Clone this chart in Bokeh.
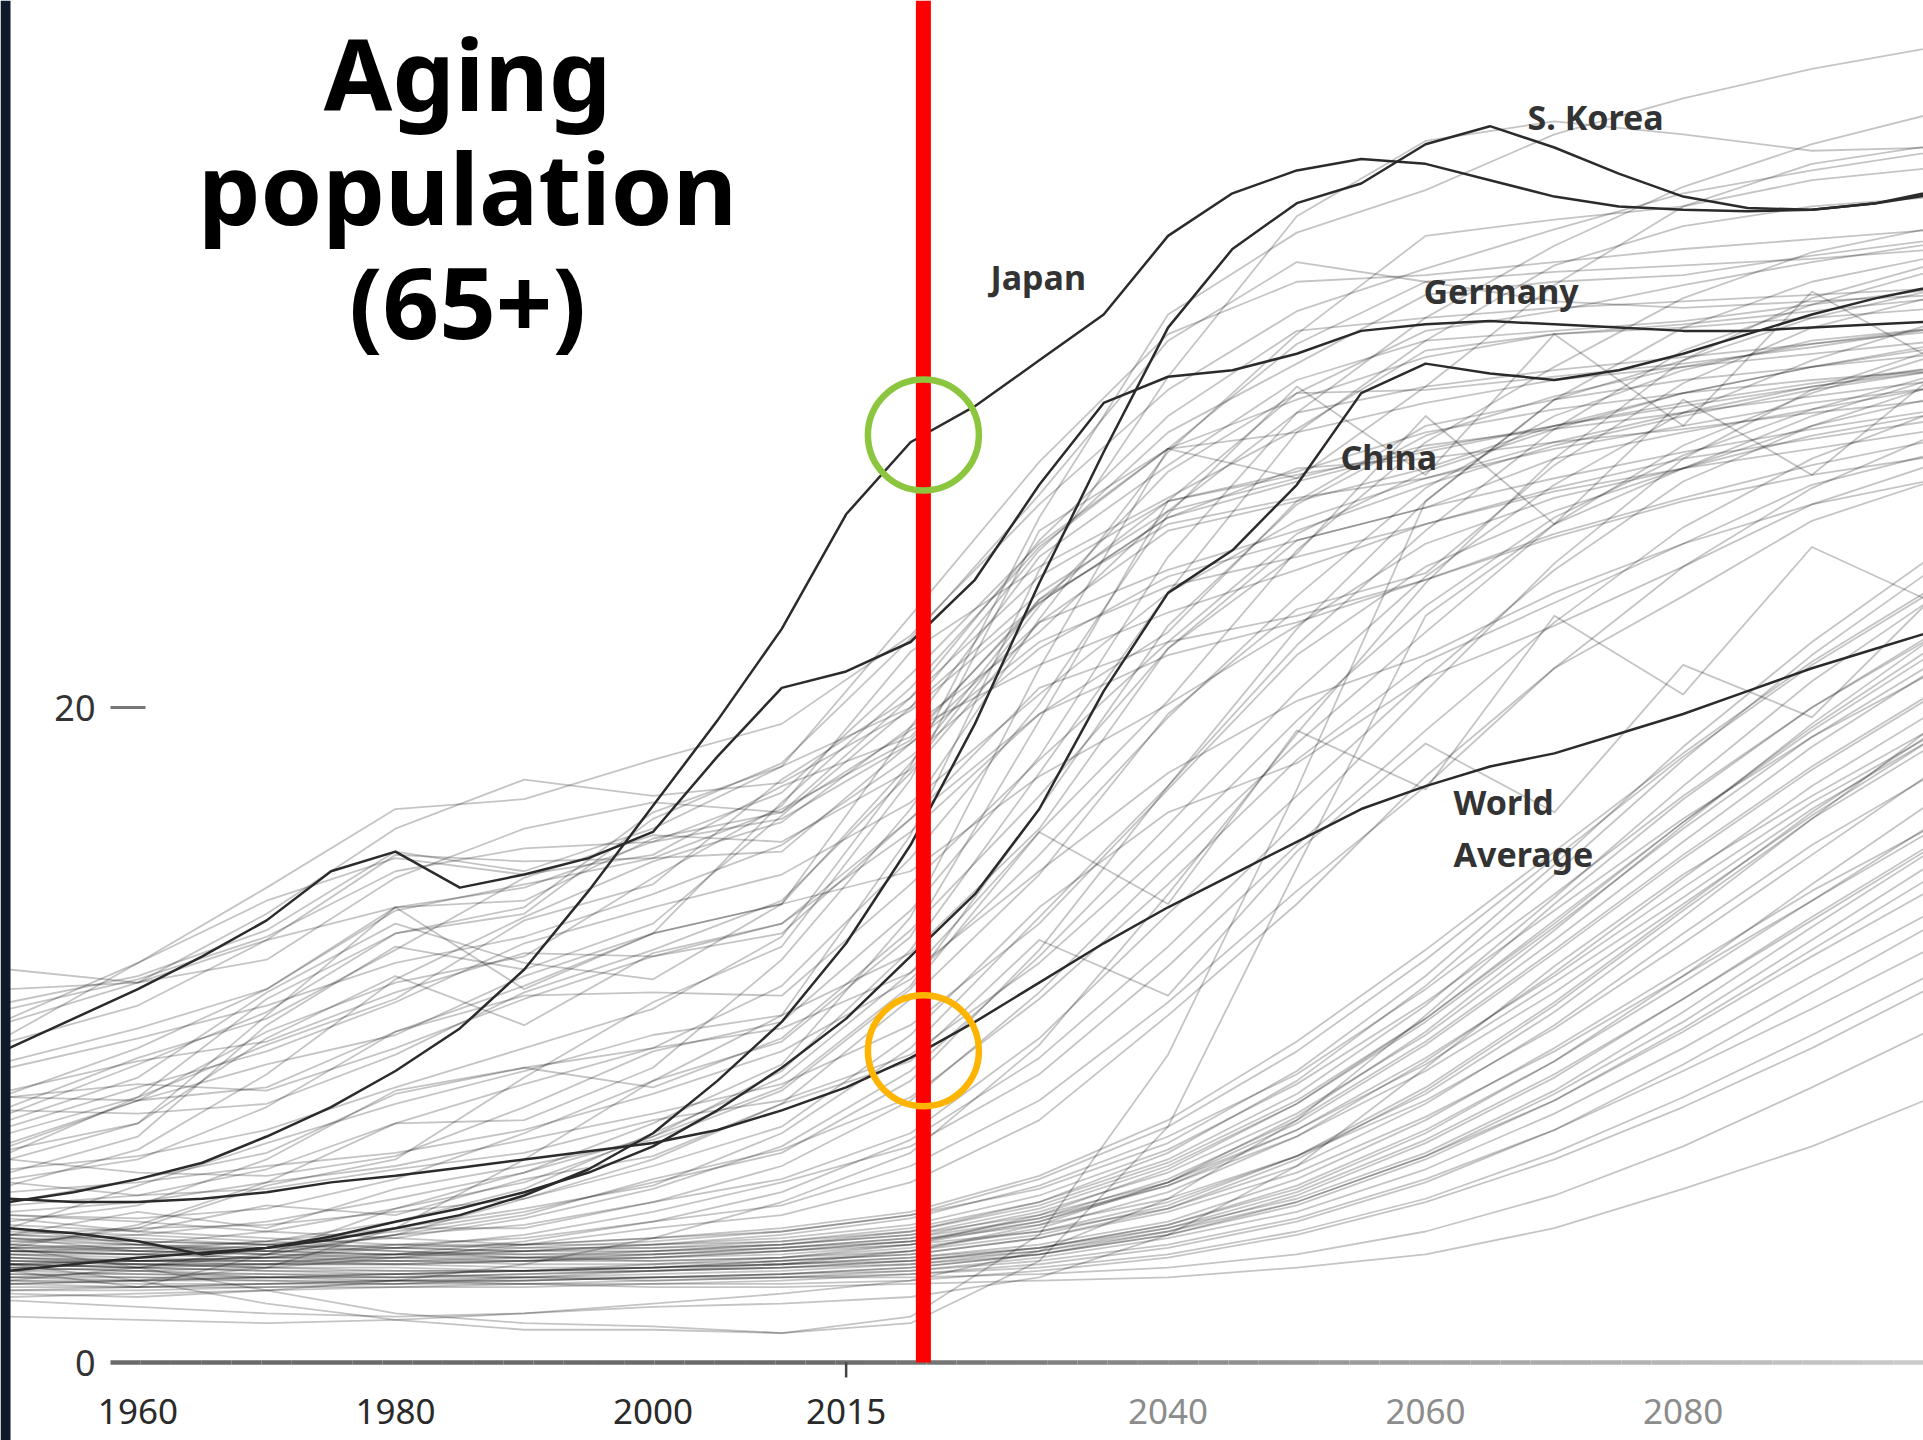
import numpy as np
from bokeh.plotting import figure
from bokeh.models import Label, Range1d, BoxAnnotation
from bokeh.core.properties import value
from bokeh.embed import file_html
from bokeh.resources import INLINE

# ------------------------------------------------------------------ data
# share of population aged 65+ (%)
years_5 = list(range(1950, 2101, 5))
years_10 = list(range(1950, 2101, 10))

japan = [4.9, 5.2, 5.6, 6.1, 6.9, 7.8, 8.9, 10.2, 12.0, 14.4, 17.0, 19.6, 22.4, 25.9, 28.1,
         29.2, 30.6, 32.0, 34.4, 35.7, 36.4, 36.75, 36.6, 36.1, 35.6, 35.3, 35.2, 35.15, 35.2, 35.4, 35.7]
s_korea = [2.8, 3.0, 3.2, 3.35, 3.5, 3.75, 4.1, 4.5, 5.1, 5.9, 7.0, 8.6, 10.4, 12.8, 15.8,
           19.5, 23.8, 27.8, 31.6, 34.0, 35.4, 36.0, 37.2, 37.75, 37.1, 36.3, 35.6, 35.25, 35.2, 35.4, 35.8]
germany = [9.6, 10.5, 11.4, 12.4, 13.5, 15.0, 15.6, 14.5, 14.9, 15.4, 16.2, 18.5, 20.6, 21.1, 22.0,
           23.9, 26.8, 29.3, 30.1, 30.3, 30.8, 31.5, 31.7, 31.8, 31.7, 31.6, 31.5, 31.5, 31.6, 31.7, 31.8]
china = [4.1, 3.95, 3.7, 3.3, 3.5, 3.85, 4.3, 4.7, 5.2, 5.8, 6.6, 7.7, 9.0, 10.5, 12.4,
         14.3, 16.9, 20.5, 23.5, 24.8, 26.8, 29.6, 30.5, 30.2, 30.0, 30.3, 30.8, 31.4, 32.0, 32.5, 32.9]
world = [5.0, 4.9, 4.9, 5.0, 5.2, 5.5, 5.7, 5.95, 6.2, 6.45, 6.7, 7.1, 7.7, 8.4, 9.3,
         10.4, 11.6, 12.8, 13.9, 14.9, 15.9, 16.9, 17.6, 18.2, 18.6, 19.2, 19.8, 20.5, 21.2, 21.8, 22.4]

# background countries, one value per decade 1950..2100
bg_developed = [
    [11.0, 11.8, 13.2, 15.6, 15.0, 16.3, 18.2, 20.0, 23.5, 26.0, 27.0, 28.0, 28.5, 29.0, 29.5, 30.0],
    [10.4, 11.6, 13.7, 16.3, 17.8, 17.3, 17.7, 19.9, 23.2, 25.8, 26.9, 27.9, 28.6, 29.3, 29.9, 30.4],
    [8.2, 9.6, 11.4, 13.9, 14.5, 15.9, 17.4, 21.0, 25.0, 27.9, 28.4, 29.3, 30.0, 30.4, 30.8, 31.2],
    [7.6, 9.1, 10.7, 13.1, 13.9, 16.8, 18.2, 22.8, 27.5, 31.4, 33.0, 33.2, 33.6, 34.0, 34.3, 34.6],
    [11.4, 11.6, 12.9, 13.9, 14.1, 16.0, 16.8, 20.3, 24.0, 26.3, 27.2, 28.4, 29.1, 29.6, 30.0, 30.3],
    [10.8, 11.7, 13.0, 15.0, 15.7, 15.9, 16.6, 18.9, 22.0, 23.7, 24.6, 25.6, 26.7, 27.6, 28.2, 28.8],
    [8.3, 9.2, 9.8, 11.3, 12.5, 12.4, 13.1, 16.6, 20.6, 22.0, 22.8, 23.9, 25.3, 26.4, 27.4, 28.2],
    [7.7, 7.6, 7.9, 9.4, 11.3, 12.6, 14.1, 18.0, 22.6, 25.4, 26.3, 27.3, 28.6, 29.6, 30.4, 31.0],
    [8.1, 8.5, 8.3, 9.6, 11.1, 12.4, 13.4, 16.2, 19.8, 21.6, 22.6, 23.9, 25.2, 26.3, 27.1, 27.7],
    [6.4, 8.1, 9.7, 11.1, 13.5, 14.6, 17.8, 20.3, 25.1, 28.9, 31.5, 31.9, 32.2, 32.4, 32.6, 32.8],
    [7.0, 8.1, 11.1, 13.1, 13.7, 16.6, 18.3, 22.1, 26.5, 31.2, 33.6, 33.0, 32.4, 32.2, 32.4, 32.6],
    [9.8, 10.9, 12.9, 15.5, 15.3, 15.4, 15.6, 18.9, 22.6, 24.2, 25.4, 26.8, 28.0, 28.9, 29.7, 30.3],
    [7.4, 8.7, 11.3, 13.4, 12.2, 11.7, 14.0, 19.4, 24.6, 27.4, 30.0, 31.2, 31.5, 31.8, 32.3, 32.8],
    [6.7, 8.0, 10.1, 11.6, 12.4, 14.8, 17.0, 21.7, 24.3, 26.4, 28.5, 30.9, 31.4, 31.6, 31.9, 32.2],
    [6.5, 7.3, 9.9, 11.8, 10.3, 12.5, 13.4, 16.6, 19.8, 22.3, 26.3, 28.6, 29.4, 30.0, 30.4, 30.8],
    [6.6, 8.0, 9.1, 10.0, 11.8, 13.1, 14.0, 18.3, 23.3, 25.6, 26.4, 27.0, 27.9, 28.6, 29.3, 29.8],
    [5.8, 6.9, 10.3, 12.7, 12.0, 13.4, 16.7, 20.0, 24.8, 28.4, 30.5, 32.6, 33.0, 33.2, 33.8, 34.3],
    [10.5, 12.2, 14.1, 15.4, 14.9, 15.5, 17.6, 19.1, 23.2, 25.8, 27.3, 27.6, 28.1, 28.5, 29.0, 29.4],
    [9.2, 10.2, 11.4, 13.8, 14.6, 15.4, 16.9, 19.0, 23.3, 26.3, 27.1, 27.8, 28.6, 29.2, 29.8, 30.4],
    [5.6, 6.2, 7.8, 10.1, 11.2, 11.3, 11.2, 14.6, 18.4, 22.0, 25.3, 27.2, 28.5, 29.6, 30.4, 31.1],
    [12.0, 11.6, 12.3, 14.8, 16.3, 17.1, 16.8, 19.3, 21.3, 22.9, 24.2, 25.6, 26.6, 27.3, 27.9, 28.5],
    [6.2, 7.3, 10.6, 13.9, 11.4, 13.1, 17.1, 20.6, 24.9, 27.9, 29.4, 30.7, 31.4, 31.7, 32.1, 32.5],
    [5.4, 6.5, 8.8, 11.7, 13.6, 15.3, 16.5, 19.4, 22.3, 26.0, 29.0, 29.8, 30.3, 30.7, 31.1, 31.5],
    [7.8, 9.3, 10.5, 12.6, 14.8, 16.1, 15.9, 18.1, 23.1, 27.2, 29.6, 29.7, 30.1, 30.5, 31.0, 31.6],
    [9.0, 9.9, 10.9, 12.2, 13.0, 14.3, 15.8, 18.5, 21.8, 24.0, 25.1, 26.1, 27.0, 27.8, 28.5, 29.1],
    [7.2, 8.4, 9.5, 11.0, 12.8, 13.9, 14.9, 17.1, 20.4, 23.5, 25.7, 27.0, 28.1, 29.0, 29.8, 30.3],
]
bg_emerging = [
    [3.5, 3.6, 4.0, 4.7, 5.5, 6.9, 8.9, 12.6, 18.0, 23.5, 28.4, 31.2, 33.5, 34.7, 35.3, 35.6],
    [3.4, 3.5, 3.7, 4.3, 5.3, 7.0, 8.7, 11.9, 16.2, 20.2, 24.8, 28.1, 30.4, 32.5, 33.9, 34.7],
    [3.0, 2.9, 3.5, 4.1, 4.7, 5.4, 7.0, 9.6, 13.6, 17.6, 21.9, 25.4, 28.5, 30.9, 32.3, 33.4],
    [3.4, 3.4, 3.7, 4.1, 4.1, 4.9, 6.0, 8.0, 11.3, 15.2, 18.9, 22.3, 25.6, 28.0, 29.6, 30.8],
    [4.3, 4.8, 6.2, 8.3, 9.0, 9.6, 10.2, 11.9, 15.0, 18.0, 20.2, 21.6, 23.5, 25.0, 26.2, 27.0],
    [8.1, 8.0, 8.4, 10.1, 11.5, 13.1, 14.0, 15.0, 17.9, 20.1, 22.5, 25.0, 26.4, 27.3, 28.3, 29.0],
    [2.8, 2.3, 3.3, 4.7, 5.8, 7.3, 9.1, 13.6, 21.2, 27.9, 31.1, 33.0, 33.3, 33.5, 33.7, 34.0],
    [3.4, 3.3, 3.6, 4.0, 4.6, 5.5, 6.4, 8.6, 12.6, 17.6, 22.4, 26.3, 29.4, 31.6, 33.0, 33.8],
    [3.8, 3.4, 3.4, 3.9, 4.2, 4.9, 5.6, 7.0, 9.9, 13.7, 17.3, 20.9, 24.2, 26.9, 28.6, 29.9],
    [4.1, 3.6, 3.3, 3.9, 4.5, 5.6, 6.5, 8.1, 11.1, 14.6, 18.4, 21.4, 23.2, 25.0, 26.8, 27.8],
    [2.5, 2.9, 3.3, 3.9, 5.0, 6.2, 7.9, 11.1, 14.9, 19.8, 23.0, 24.1, 27.4, 29.9, 31.6, 32.6],
    [2.4, 2.5, 2.9, 4.1, 6.2, 8.6, 10.6, 16.1, 24.2, 30.1, 35.0, 37.3, 37.9, 37.5, 37.0, 37.1],
    [3.6, 4.1, 5.4, 6.2, 8.7, 11.0, 12.7, 17.8, 25.4, 27.9, 27.0, 29.8, 32.9, 35.3, 36.6, 37.2],
    [3.3, 3.1, 3.2, 3.5, 3.9, 4.6, 5.5, 6.6, 8.8, 12.1, 15.8, 19.3, 22.6, 25.5, 27.6, 29.1],
    [3.9, 4.1, 4.2, 4.6, 5.0, 6.0, 7.2, 10.0, 13.9, 16.8, 18.3, 20.9, 22.5, 24.3, 26.2, 27.5],
    [3.0, 3.1, 3.2, 3.6, 3.8, 4.3, 4.8, 6.0, 8.0, 11.0, 14.4, 17.6, 21.2, 24.3, 26.7, 28.4],
    [4.1, 5.4, 6.7, 7.9, 8.9, 10.0, 10.6, 12.5, 16.3, 21.8, 25.1, 26.1, 27.6, 28.4, 29.1, 29.8],
    [4.5, 4.4, 4.7, 5.6, 7.0, 8.6, 9.8, 13.0, 19.6, 26.3, 29.6, 31.5, 32.1, 32.9, 33.6, 34.2],
    [2.6, 2.8, 2.9, 3.2, 3.6, 4.1, 4.5, 5.5, 7.4, 10.6, 14.0, 17.9, 21.2, 23.4, 25.7, 27.0],
    [3.2, 3.0, 3.0, 3.3, 3.7, 4.3, 5.2, 6.8, 9.3, 12.7, 16.5, 20.5, 24.4, 27.6, 29.7, 31.0],
    [5.2, 5.5, 6.0, 6.4, 7.1, 8.2, 9.5, 11.7, 15.5, 19.7, 23.4, 26.7, 28.9, 30.3, 31.2, 31.6],
    [3.7, 3.9, 4.3, 5.0, 5.8, 6.9, 8.4, 11.5, 16.9, 22.5, 26.2, 28.3, 29.5, 30.4, 31.1, 31.6],
    [2.1, 2.0, 2.2, 2.5, 3.0, 3.8, 4.9, 6.4, 9.7, 14.3, 19.2, 23.8, 27.6, 30.6, 32.5, 33.6],
    [4.6, 4.9, 5.5, 6.0, 6.8, 7.6, 8.5, 10.3, 13.4, 17.5, 21.6, 24.3, 26.0, 27.3, 28.6, 29.5],
    [3.9, 3.7, 3.6, 3.8, 4.4, 5.3, 6.6, 8.9, 12.4, 16.4, 20.5, 24.0, 26.8, 29.0, 30.6, 31.8],
    [4.8, 5.1, 5.3, 5.9, 6.4, 7.4, 8.0, 9.4, 12.2, 15.7, 19.6, 23.1, 25.8, 27.7, 29.1, 30.2],
]
bg_young = [
    [3.1, 3.0, 2.9, 2.9, 2.8, 2.9, 3.0, 3.1, 3.4, 4.0, 4.9, 6.3, 8.0, 10.1, 12.4, 14.6],
    [2.7, 2.6, 2.6, 2.7, 2.8, 2.9, 3.0, 3.2, 3.6, 4.3, 5.6, 7.4, 9.6, 12.0, 14.4, 16.5],
    [3.4, 3.3, 3.2, 3.2, 3.1, 3.2, 3.4, 3.7, 4.3, 5.4, 7.1, 9.3, 11.8, 14.5, 17.1, 19.3],
    [2.3, 2.3, 2.4, 2.5, 2.5, 2.6, 2.7, 2.8, 3.2, 3.8, 4.6, 5.9, 7.6, 9.6, 11.8, 13.9],
    [3.7, 3.6, 3.5, 3.4, 3.3, 3.3, 3.4, 3.6, 4.0, 4.7, 6.0, 7.9, 10.3, 13.1, 15.8, 18.1],
    [3.0, 3.1, 3.1, 3.2, 3.4, 3.6, 3.9, 4.4, 5.4, 6.9, 8.8, 11.4, 14.3, 17.3, 20.0, 22.4],
    [4.2, 4.0, 3.8, 3.6, 3.5, 3.5, 3.6, 3.9, 4.5, 5.5, 7.1, 9.1, 11.6, 14.2, 16.9, 19.2],
    [2.9, 2.8, 2.7, 2.6, 2.6, 2.5, 2.6, 2.7, 2.9, 3.3, 4.0, 5.0, 6.4, 8.1, 10.0, 12.0],
    [3.2, 3.1, 3.0, 3.0, 3.1, 3.3, 3.5, 3.8, 4.6, 5.8, 7.6, 10.0, 12.9, 15.9, 18.8, 21.3],
    [2.0, 2.1, 2.2, 2.3, 2.4, 2.5, 2.6, 2.8, 3.1, 3.6, 4.4, 5.6, 7.1, 8.9, 10.8, 12.8],
    [3.5, 3.5, 3.5, 3.6, 3.6, 3.8, 4.1, 4.6, 5.7, 7.4, 9.8, 12.6, 15.6, 18.6, 21.4, 23.8],
    [2.5, 2.4, 2.4, 2.4, 2.5, 2.6, 2.7, 2.9, 3.3, 4.0, 5.1, 6.7, 8.7, 11.1, 13.6, 16.0],
    [3.9, 3.8, 3.6, 3.4, 3.2, 3.1, 3.2, 3.5, 4.0, 4.9, 6.3, 8.2, 10.7, 13.6, 16.6, 19.6],
    [2.8, 2.9, 3.0, 3.1, 3.2, 3.4, 3.6, 4.0, 4.9, 6.4, 8.6, 11.5, 14.9, 18.4, 21.6, 24.4],
    [3.3, 3.2, 3.1, 3.0, 2.9, 2.9, 3.0, 3.2, 3.5, 4.1, 5.0, 6.4, 8.3, 10.7, 13.3, 15.8],
    [4.5, 4.3, 4.0, 3.8, 3.6, 3.6, 3.7, 4.0, 4.8, 6.1, 8.0, 10.5, 13.4, 16.5, 19.4, 22.0],
    [2.2, 2.2, 2.3, 2.4, 2.6, 2.8, 3.0, 3.4, 4.2, 5.5, 7.5, 10.1, 13.2, 16.4, 19.5, 22.3],
    [3.0, 2.9, 2.8, 2.8, 2.8, 2.9, 3.1, 3.3, 3.8, 4.6, 5.8, 7.5, 9.5, 11.8, 14.1, 16.4],
    [3.6, 3.4, 3.3, 3.3, 3.4, 3.6, 3.8, 4.2, 5.1, 6.5, 8.5, 11.0, 13.8, 16.6, 19.1, 21.2],
    [2.6, 2.6, 2.5, 2.5, 2.5, 2.6, 2.7, 2.9, 3.3, 3.9, 4.9, 6.3, 8.2, 10.4, 12.9, 15.4],
    [3.1, 3.1, 3.2, 3.3, 3.5, 3.7, 4.0, 4.5, 5.6, 7.2, 9.5, 12.3, 15.4, 18.5, 21.3, 23.7],
    [4.0, 3.9, 3.7, 3.5, 3.4, 3.4, 3.5, 3.7, 4.2, 5.0, 6.3, 8.0, 10.2, 12.8, 15.5, 18.2],
    [2.4, 2.5, 2.6, 2.6, 2.7, 2.8, 2.9, 3.1, 3.5, 4.2, 5.3, 7.0, 9.2, 11.8, 14.6, 17.3],
    [3.3, 3.3, 3.4, 3.5, 3.6, 3.8, 4.0, 4.5, 5.3, 6.7, 8.9, 11.8, 15.2, 18.8, 22.0, 24.8],
    [2.9, 2.8, 2.6, 2.5, 2.4, 2.4, 2.4, 2.5, 2.8, 3.2, 3.9, 4.9, 6.2, 7.8, 9.6, 11.6],
    [3.8, 3.7, 3.6, 3.5, 3.4, 3.5, 3.7, 4.1, 4.9, 6.2, 8.2, 10.9, 14.2, 17.6, 20.8, 23.5],
    [2.6, 2.5, 2.5, 2.4, 2.4, 2.3, 2.3, 2.4, 2.5, 2.6, 2.9, 3.3, 4.1, 5.3, 6.6, 8.2],
    [3.0, 2.9, 2.8, 2.7, 2.6, 2.6, 2.6, 2.6, 2.7, 2.9, 3.3, 4.0, 5.1, 6.6, 8.4, 10.3],
    [2.7, 2.7, 2.6, 2.6, 2.7, 2.8, 2.9, 3.0, 3.3, 3.9, 4.8, 6.2, 8.0, 10.2, 12.6, 15.0],
    [3.2, 3.1, 3.1, 3.1, 3.0, 3.0, 3.1, 3.3, 3.8, 4.7, 6.2, 8.3, 10.9, 13.8, 16.6, 19.0],
    [2.4, 2.3, 2.3, 2.3, 2.3, 2.4, 2.5, 2.7, 3.0, 3.5, 4.3, 5.5, 7.1, 9.1, 11.3, 13.5],
    [3.6, 3.5, 3.4, 3.3, 3.3, 3.4, 3.6, 3.9, 4.7, 6.0, 7.9, 10.4, 13.3, 16.3, 19.1, 21.5],
    [2.9, 3.0, 3.0, 3.0, 3.1, 3.2, 3.4, 3.7, 4.4, 5.6, 7.4, 9.8, 12.6, 15.5, 18.2, 20.6],
    [3.4, 3.3, 3.2, 3.1, 3.1, 3.1, 3.2, 3.4, 3.9, 4.8, 6.3, 8.4, 11.0, 13.9, 16.8, 19.4],
    [2.2, 2.3, 2.4, 2.5, 2.6, 2.7, 2.8, 3.0, 3.4, 4.1, 5.2, 6.8, 8.8, 11.1, 13.5, 15.9],
    [3.8, 3.6, 3.4, 3.3, 3.2, 3.2, 3.3, 3.6, 4.3, 5.5, 7.3, 9.7, 12.5, 15.4, 18.1, 20.5],
    [2.5, 2.5, 2.6, 2.7, 2.8, 2.9, 3.1, 3.4, 4.1, 5.2, 6.9, 9.2, 11.9, 14.8, 17.6, 20.0],
    [3.1, 3.0, 2.9, 2.8, 2.8, 2.8, 2.9, 3.1, 3.5, 4.2, 5.4, 7.1, 9.2, 11.6, 14.1, 16.6],
    [2.8, 2.7, 2.7, 2.7, 2.8, 3.0, 3.2, 3.6, 4.5, 5.9, 7.9, 10.5, 13.5, 16.5, 19.3, 21.8],
    [3.5, 3.4, 3.3, 3.2, 3.2, 3.3, 3.5, 3.8, 4.4, 5.4, 6.9, 8.9, 11.3, 14.0, 16.7, 19.2],
]
bg_other = [
    [3.0, 2.5, 1.8, 1.3, 1.0, 1.0, 0.9, 1.4, 3.9, 9.4, 17.5, 26.3, 29.4, 30.6, 31.9, 32.8],
    [3.5, 2.9, 2.2, 1.5, 1.2, 1.1, 0.9, 1.2, 3.1, 7.2, 15.1, 22.8, 25.6, 27.3, 28.9, 30.1],
    [1.9, 1.7, 1.5, 1.4, 1.5, 1.7, 1.8, 2.0, 2.6, 3.9, 6.0, 9.0, 12.1, 14.9, 17.3, 19.5],
    [5.9, 6.3, 7.1, 8.4, 9.6, 10.8, 13.0, 18.2, 25.8, 32.0, 34.5, 35.8, 37.5, 38.6, 39.5, 40.2],
    [10.0, 12.2, 14.5, 16.9, 17.2, 18.4, 19.5, 22.2, 26.2, 29.7, 32.1, 33.4, 34.6, 35.7, 36.4, 37.0],
    [4.9, 5.6, 6.4, 8.2, 9.0, 8.4, 9.9, 13.2, 17.3, 21.8, 24.7, 28.9, 25.6, 29.4, 27.1, 30.3],
    [5.5, 5.1, 5.9, 7.3, 8.5, 9.6, 11.5, 15.4, 20.1, 25.9, 29.8, 27.1, 31.4, 28.6, 32.7, 30.5],
    [3.5, 4.2, 5.5, 7.3, 7.4, 9.0, 12.3, 16.9, 22.7, 27.8, 31.4, 34.4, 34.9, 35.3, 36.1, 36.5],
    [6.2, 5.8, 5.7, 6.3, 7.8, 9.5, 10.4, 13.8, 18.5, 24.6, 29.0, 31.9, 34.1, 35.9, 37.2, 38.2],
    [1.4, 1.3, 1.2, 1.3, 1.5, 1.8, 2.1, 2.5, 3.4, 5.0, 7.4, 10.6, 14.0, 17.2, 20.0, 22.3],
    [3.9, 4.6, 4.1, 5.3, 6.0, 6.8, 8.3, 11.4, 16.2, 14.0, 19.3, 17.5, 22.8, 20.4, 24.9, 23.1],
    [4.4, 4.0, 4.8, 4.5, 5.6, 6.3, 7.9, 9.2, 12.9, 11.2, 15.6, 18.9, 16.8, 21.3, 19.7, 23.6],
]

x_tick_years = [1960, 1980, 2000, 2015, 2040, 2060, 2080]
x_tick_labels = ["1960", "1980", "2000", "2015", "2040", "2060", "2080"]
y_tick_values = [0, 20]
y_tick_labels = ["0", "20"]
marker_year = 2021
title_lines = ["Aging", "population", "(65+)"]
series_label_texts = ["Japan", "S. Korea", "Germany", "China", "World", "Average"]

# ------------------------------------------------------------------ layout (page pixels)
W, H = 1923, 1440
PX_PER_YEAR = 12.877
PX_PER_UNIT = 32.75
LEFT_YEAR = 1960 - 137.4 / PX_PER_YEAR
TOP_VALUE = 1362 / PX_PER_UNIT


def X(px):
    return LEFT_YEAR + px / PX_PER_YEAR


def Y(py):
    return TOP_VALUE - py / PX_PER_UNIT


p = figure(width=W, height=H, x_range=Range1d(X(0), X(W)), y_range=Range1d(Y(H), Y(0)),
           min_border=0, toolbar_location=None, output_backend="svg",
           x_axis_location=None, y_axis_location=None)
p.outline_line_color = None
p.grid.visible = False
p.background_fill_color = "white"
p.border_fill_color = "white"

# background countries
bg = bg_developed + bg_emerging + bg_young + bg_other
p.multi_line(xs=[years_10] * len(bg), ys=bg, line_color="black", line_alpha=0.23,
             line_width=1.8, line_join="round")

# highlighted series
hl = [japan, s_korea, germany, china, world]
p.multi_line(xs=[years_5] * len(hl), ys=hl, line_color="#2b2b2b", line_width=2.5,
             line_join="round")

# x axis line with fading gradient
n_seg = 60
edges = np.linspace(X(110), X(W), n_seg + 1)
cols = []
for i in range(n_seg):
    mid = 0.5 * (edges[i] + edges[i + 1])
    frac = float(np.clip((mid - 2012) / (X(W) - 2012), 0, 1))
    g = int(0x6a + frac * (0xcc - 0x6a))
    cols.append("#%02x%02x%02x" % (g, g, g))
p.segment(x0=edges[:-1], y0=[0] * n_seg, x1=edges[1:], y1=[0] * n_seg,
          line_color=cols, line_width=4.5)

# 2015 tick under axis
p.segment(x0=[2015], y0=[0], x1=[2015], y1=[Y(1377)], line_color="#444444", line_width=2.5)

# "20" dash
p.segment(x0=[X(110)], y0=[20], x1=[X(145)], y1=[20], line_color="#777777", line_width=3)

# red "today" line
p.segment(x0=[marker_year], y0=[0], x1=[marker_year], y1=[Y(0)], line_color="#ff0000",
          line_width=15, line_cap="butt")

# rings
ring_y = [float(np.interp(marker_year, years_5, japan)), float(np.interp(marker_year, years_5, world))]
p.scatter(x=[marker_year, marker_year], y=ring_y, marker="circle", size=111,
          fill_color=None, line_color=["#8cc63f", "#ffb400"], line_width=6.5)

# tick labels
tick_cols = ["#2a2a2a" if y <= 2015 else "#8c8c8c" for y in x_tick_years]
p.text(x=x_tick_years, y=[Y(1411)] * len(x_tick_years), text=x_tick_labels,
       text_align="center", text_baseline="middle", text_font=value("Noto Sans"),
       text_font_size="35px", text_color=tick_cols)
p.text(x=[X(95)] * 2, y=y_tick_values, text=y_tick_labels, text_align="right",
       text_baseline="middle", text_font=value("Noto Sans"), text_font_size="36px",
       text_color="#333333")

# series labels
label_px = [(990, 276), (1527, 116), (1423, 290), (1340, 456), (1453, 801), (1453, 853)]
for txt, (lx, ly) in zip(series_label_texts, label_px):
    p.add_layout(Label(x=X(lx), y=Y(ly), text=txt, text_font="Noto Sans",
                       text_font_style="bold", text_font_size="34px", text_color="#333333",
                       text_align="left", text_baseline="middle"))

# title
for txt, my in zip(title_lines, [72, 186, 300]):
    p.add_layout(Label(x=X(467), y=Y(my), text=txt, text_font="Noto Sans",
                       text_font_style="bold", text_font_size="99px", text_color="#000000",
                       text_align="center", text_baseline="middle"))

# dark strip at the left edge
p.add_layout(BoxAnnotation(left=X(0), right=X(10), fill_color="#0f1b2b", fill_alpha=1.0,
                           line_color=None))

open("out.html", "w").write(file_html(p, INLINE))
